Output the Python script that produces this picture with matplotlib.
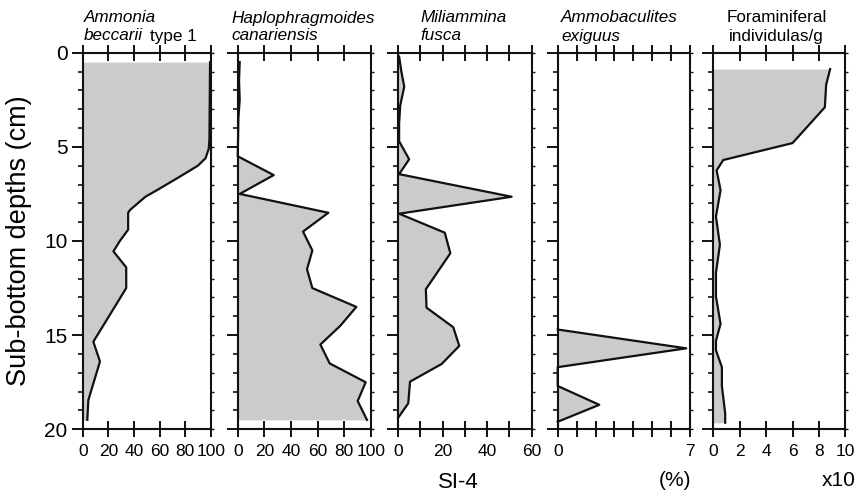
import matplotlib
matplotlib.use("Agg")
import matplotlib.pyplot as plt
from matplotlib.ticker import MultipleLocator

# ── Core SI-4: foraminiferal abundance vs. sub-bottom depth ──────────────────

# Ammonia beccarii type 1 (%)
amm_depth = [0.5, 4.6, 5.1, 5.6, 6.0, 6.7, 7.3, 7.65, 8.35, 8.5, 9.4, 10.0,
             10.55, 11.4, 12.5, 15.35, 16.4, 18.45, 19.5]
amm_pct = [99.5, 99, 98.5, 96, 90, 73, 58, 49, 37, 35.5, 35.5, 29,
           24, 34, 34, 8.3, 13.5, 4.4, 3.6]

# Haplophragmoides canariensis (%)
hap_depth = [0.5, 1.5, 2.5, 3.5, 4.5, 5.5, 6.5, 7.5, 8.5, 9.5, 10.5, 11.5,
             12.5, 13.5, 14.5, 15.5, 16.5, 17.5, 18.5, 19.5]
hap_pct = [1.5, 1, 1.5, 0.5, 0.3, 0, 27, 1.5, 68, 49, 56, 52,
           56, 89, 77, 62, 69, 96, 90, 97]

# Miliammina fusca (%)
mil_depth = [0.2, 1.0, 1.8, 2.8, 3.75, 4.7, 5.66, 6.45, 7.65, 8.55, 9.56,
             10.0, 10.65, 12.56, 13.54, 14.58, 15.57, 16.53, 17.47, 18.62, 19.4]
mil_pct = [0.5, 1.5, 2.8, 1.0, 0.5, 0.5, 5, 0.5, 51, 0.5, 21,
           22, 23.5, 12.5, 12.8, 24.8, 27.5, 19.6, 5.4, 4.6, 0]

# Ammobaculites exiguus (%)
ammb_depth = [14.7, 15.7, 16.7, 17.7, 18.7, 19.6]
ammb_pct = [0, 6.8, 0, 0, 2.2, 0]

# Foraminiferal individuals per gram (x10)
ind_depth = [0.87, 1.7, 2.9, 4.8, 5.7, 6.25, 7.3, 8.7, 10.2, 11.7, 12.95,
             14.4, 15.3, 15.8, 16.7, 17.7, 19.15, 19.65]
ind_count = [8.85, 8.55, 8.45, 6.0, 0.75, 0.25, 0.55, 0.2, 0.5, 0.2, 0.2,
             0.55, 0.2, 0.2, 0.65, 0.65, 0.9, 0.9]

# x-axis ranges, tick marks and labelled ticks for each panel
x_max = [100, 100, 60, 7, 10]
x_ticks = [[0, 20, 40, 60, 80, 100],
           [0, 20, 40, 60, 80, 100],
           [0, 10, 20, 30, 40, 50, 60],
           [0, 1, 2, 3, 4, 5, 6, 7],
           [0, 2, 4, 6, 8, 10]]
x_labels = [["0", "20", "40", "60", "80", "100"],
            ["0", "20", "40", "60", "80", "100"],
            ["0", "", "20", "", "40", "", "60"],
            ["0", "", "", "", "", "", "", "7"],
            ["0", "2", "4", "6", "8", "10"]]
depth_ticks = [0, 5, 10, 15, 20]

series = [(amm_depth, amm_pct), (hap_depth, hap_pct), (mil_depth, mil_pct),
          (ammb_depth, ammb_pct), (ind_depth, ind_count)]

# ── Layout (pixels) ───────────────────────────────────────────────────────────

W, H = 863, 495
_TOP, _BOT = 52.7, 429.3
_COLS = [(82.7, 210.7), (237.7, 371.0), (398.0, 531.7),
         (557.7, 690.0), (713.3, 845.3)]

_FILL = "#cbcbcb"
_INK = "#111111"

plt.rcParams["font.family"] = ["Liberation Sans", "DejaVu Sans"]

fig = plt.figure(figsize=(W / 100, H / 100), dpi=100)
fig.patch.set_facecolor("white")


def fx(px):
    return px / W


def fy(py):
    return 1 - py / H


axes = []
for i, ((left, right), (depth, vals)) in enumerate(zip(_COLS, series)):
    ax = fig.add_axes([fx(left), fy(_BOT), (right - left) / W, (_BOT - _TOP) / H])
    twin = ax.twinx()

    ax.fill_betweenx(depth, 0, vals, color=_FILL, lw=0, zorder=1)
    ax.plot(vals, depth, color=_INK, lw=1.6, zorder=3, clip_on=False)

    ax.set_xlim(0, x_max[i])
    ax.set_ylim(20, 0)
    for spine in ax.spines.values():
        spine.set_linewidth(1.5)
        spine.set_color(_INK)

    # x ticks cross both the top and bottom frame
    ax.set_xticks(x_ticks[i])
    ax.set_xticklabels(x_labels[i])
    ax.xaxis.set_ticks_position("both")
    ax.tick_params(axis="x", direction="inout", length=11, width=1.4,
                   labelsize=12.5, pad=5, color=_INK, top=True, labeltop=False)

    # depth ticks: long outward every 5 cm, short every 1 cm
    ax.set_yticks(depth_ticks)
    ax.yaxis.set_minor_locator(MultipleLocator(1))
    ax.tick_params(axis="y", which="major", direction="out", length=8,
                   width=1.4, color=_INK, labelsize=15, pad=3)
    ax.tick_params(axis="y", which="minor", direction="out", length=3.5,
                   width=1.2, color=_INK)
    if i > 0:
        ax.tick_params(axis="y", labelleft=False)

    # small outward ticks along the right frame
    twin.set_ylim(20, 0)
    twin.yaxis.set_major_locator(MultipleLocator(1))
    twin.tick_params(axis="y", direction="out", length=2.2, width=1.0,
                     color=_INK, labelright=False)
    for spine in twin.spines.values():
        spine.set_visible(False)
    axes.append(ax)

axes[0].set_ylabel("Sub-bottom depths (cm)", fontsize=19.5, labelpad=9)

# ── Panel headings ────────────────────────────────────────────────────────────

_TSIZE = 12.3
fig.text(fx(84), fy(18), "Ammonia", style="italic", fontsize=_TSIZE, va="center")
fig.text(fx(84), fy(36), "beccarii", style="italic", fontsize=_TSIZE, va="center")
fig.text(fx(150), fy(36), "type 1", fontsize=_TSIZE, va="center")
fig.text(fx(231), fy(18), "Haplophragmoides", style="italic", fontsize=_TSIZE,
         va="center")
fig.text(fx(231), fy(36), "canariensis", style="italic", fontsize=_TSIZE,
         va="center")
fig.text(fx(420), fy(18), "Miliammina", style="italic", fontsize=_TSIZE,
         va="center")
fig.text(fx(420), fy(36), "fusca", style="italic", fontsize=_TSIZE, va="center")
fig.text(fx(561), fy(18), "Ammobaculites", style="italic", fontsize=_TSIZE,
         va="center")
fig.text(fx(561), fy(36), "exiguus", style="italic", fontsize=_TSIZE, va="center")
fig.text(fx(777), fy(18), "Foraminiferal", fontsize=_TSIZE, ha="center",
         va="center")
fig.text(fx(776), fy(36), "individulas/g", fontsize=_TSIZE, ha="center",
         va="center")

# ── Bottom annotations ────────────────────────────────────────────────────────

fig.text(fx(458), fy(482), "SI-4", fontsize=16, ha="center", va="center")
fig.text(fx(691), fy(480), "(%)", fontsize=15, ha="right", va="center")
fig.text(fx(856), fy(480), "x10", fontsize=15, ha="right", va="center")

fig.savefig("out.png", dpi=100, facecolor="white")
